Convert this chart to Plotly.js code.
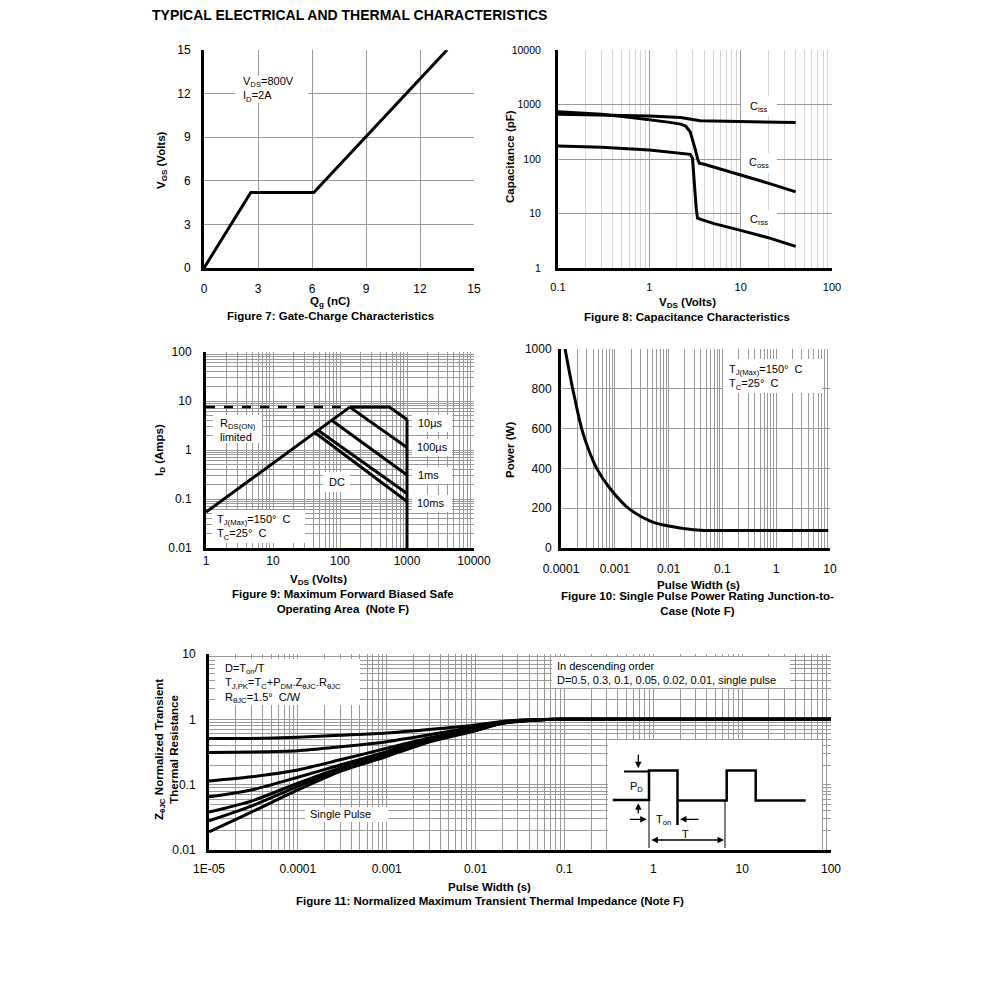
<!DOCTYPE html>
<html><head><meta charset="utf-8">
<script src="https://cdn.plot.ly/plotly-3.0.1.min.js"></script>
<style>html,body{margin:0;padding:0;background:#fff}#chart{width:991px;height:991px}</style>
</head><body><div id="chart"></div>
<script>
// ---------- Figure 7: Gate charge ----------
const qg  = [0, 2.6, 6.1, 13.5];
const vgs = [0, 5.2, 5.2, 15];

// ---------- Figure 8: Capacitance ----------
const cissV = [0.1, 0.3, 1, 2.2, 2.6, 2.9, 3.3, 3.6, 5, 10, 20, 40];
const cissC = [665, 647, 612, 578, 550, 522, 506, 502, 496, 489, 480, 469];
const cossV = [0.1, 0.3, 0.6, 1, 1.6, 2.2, 2.5, 2.8, 3.0, 3.2, 3.4, 3.55, 3.9, 6, 10, 20, 40];
const cossC = [735, 665, 585, 532, 475, 437, 402, 316, 223, 146, 96, 83, 81, 66, 51, 36, 25];
const crssV = [0.1, 0.3, 1, 2, 2.8, 2.97, 3.05, 3.15, 3.26, 3.37, 3.6, 5, 10, 20, 40];
const crssC = [173, 165, 146, 132, 122, 103, 63, 27, 12.5, 8.2, 7.9, 6.6, 4.9, 3.6, 2.5];

// ---------- Figure 9: Safe operating area ----------
const dashV = [1, 140],   dashI = [7.5, 7.5];
const rdsV  = [1, 140],   rdsI  = [0.054, 7.5];
const us10V = [140, 545, 1000], us10I = [7.5, 7.5, 4.2];
const us100V = [140, 1000], us100I = [7.5, 1.12];
const ms1V  = [75, 1000], ms1I  = [4.05, 0.31];
const ms10V = [47, 1000], ms10I = [2.54, 0.13];
const dcV   = [42, 1000], dcI   = [2.27, 0.089];
const bvV   = [1000, 1000], bvI = [4.2, 0.01];

// ---------- Figure 10: Single pulse power ----------
const pw  = [1.19e-4, 1.65e-4, 2.42e-4, 3.2e-4, 4.6e-4, 8.1e-4, 1.78e-3, 4.8e-3, 0.0107, 0.029, 0.058, 0.2, 1, 9.3];
const pwr = [1000, 800, 600, 500, 400, 300, 200, 133, 109, 92, 88, 88, 88, 88];

// ---------- Figure 11: Transient thermal impedance ----------
const tp     = [1e-5, 3e-5, 1e-4, 3e-4, 1e-3, 3e-3, 1e-2, 2e-2, 5e-2, 1e-1, 1, 10, 100];
const zD05   = [0.51, 0.51, 0.53, 0.57, 0.62, 0.70, 0.82, 0.93, 0.99, 1.0, 1.0, 1.0, 1.0];
const zD03   = [0.31, 0.315, 0.33, 0.38, 0.455, 0.58, 0.77, 0.91, 0.99, 1.0, 1.0, 1.0, 1.0];
const zD01   = [0.114, 0.132, 0.168, 0.24, 0.36, 0.52, 0.73, 0.89, 0.985, 1.0, 1.0, 1.0, 1.0];
const zD005  = [0.065, 0.083, 0.13, 0.20, 0.32, 0.49, 0.70, 0.88, 0.985, 1.0, 1.0, 1.0, 1.0];
const zD002  = [0.038, 0.056, 0.105, 0.18, 0.30, 0.47, 0.69, 0.88, 0.98, 1.0, 1.0, 1.0, 1.0];
const zD001  = [0.028, 0.047, 0.094, 0.17, 0.28, 0.46, 0.68, 0.87, 0.98, 1.0, 1.0, 1.0, 1.0];
const zSingle= [0.019, 0.038, 0.083, 0.16, 0.27, 0.45, 0.67, 0.87, 0.98, 1.0, 1.0, 1.0, 1.0];

// ---------- Inset pulse diagram (inset axis units) ----------
const pulse1U = [4.7, 41, 41, 69.5, 69.5], pulse1V = [50, 50, 79.5, 79.5, 25];
const pulse2U = [69.5, 118.7, 118.7, 147.7, 147.7, 197.7], pulse2V = [49.5, 49.5, 79.5, 79.5, 49.5, 49.5];
const stubU = [16, 40], stubV = [78.5, 78.5];
const markU = [41, 41, null, 117, 117], markV = [50, 2, null, 49.5, 2];

// ---------- tick labels ----------
const t8x = [0.1, 1, 10, 100],  t8xT = ['0.1', '1', '10', '100'];
const t8y = [1, 10, 100, 1000, 10000], t8yT = ['1', '10', '100', '1000', '10000'];
const t9x = [1, 10, 100, 1000, 10000], t9xT = ['1', '10', '100', '1000', '10000'];
const t9y = [0.01, 0.1, 1, 10, 100], t9yT = ['0.01', '0.1', '1', '10', '100'];
const t10x = [0.0001, 0.001, 0.01, 0.1, 1, 10], t10xT = ['0.0001', '0.001', '0.01', '0.1', '1', '10'];
const t11x = [1e-5, 1e-4, 1e-3, 0.01, 0.1, 1, 10, 100], t11xT = ['1E-05', '0.0001', '0.001', '0.01', '0.1', '1', '10', '100'];
const t11y = [0.01, 0.1, 1, 10], t11yT = ['0.01', '0.1', '1', '10'];

// ---------- helpers ----------
const FONT = 'Arial, "Liberation Sans", sans-serif';
const W = 991;
const X = p => p / W;
const Y = p => 1 - p / W;
function minorVals(lo, hi) {
  const v = [];
  for (let e = lo; e < hi; e++) for (let k = 2; k <= 9; k++) v.push(k * Math.pow(10, e));
  return v;
}
function ax(o, fs) {
  return Object.assign({
    showline: true, linecolor: '#000', linewidth: 3, mirror: false,
    showgrid: true, gridcolor: '#999', gridwidth: 1, zeroline: false,
    ticks: 'outside', tickcolor: 'rgba(0,0,0,0)', ticklen: 8,
    tickfont: {family: FONT, size: fs || 12, color: '#000'}, fixedrange: true
  }, o);
}
function logAx(o, lo, hi, tv, tt, minorColor, fs) {
  const a = ax(Object.assign({type: 'log', range: [lo, hi], tickmode: 'array', tickvals: tv, ticktext: tt}, o), fs);
  if (minorColor) a.minor = {tickmode: 'array', tickvals: minorVals(lo, hi), showgrid: true, gridcolor: minorColor, gridwidth: 1, ticks: ''};
  return a;
}
function line(x, y, xa, ya, extra) {
  return Object.assign({x: x, y: y, xaxis: xa, yaxis: ya, type: 'scatter', mode: 'lines',
    line: {color: '#000', width: 3}, hoverinfo: 'skip'}, extra || {});
}

const shapes = [];
const annotations = [];
function box(x0, y0, x1, y1) {
  shapes.push({type: 'rect', xref: 'paper', yref: 'paper', x0: X(x0), x1: X(x1), y0: Y(y1), y1: Y(y0),
    fillcolor: '#fff', line: {width: 0}, layer: 'above'});
}
function label(text, xLeft, yMid) {
  annotations.push({text: text, xref: 'paper', yref: 'paper', x: X(xLeft), y: Y(yMid),
    xanchor: 'left', yanchor: 'middle', align: 'left', showarrow: false,
    font: {family: FONT, size: 11, color: '#000'}});
}
function bold(text, xc, yMid, angle) {
  annotations.push({text: text, xref: 'paper', yref: 'paper', x: X(xc), y: Y(yMid),
    xanchor: 'center', yanchor: 'middle', align: 'center', showarrow: false, textangle: angle || 0,
    font: {family: FONT, size: 11.5, color: '#000', weight: 'bold'}});
}
function arrow(hx, hy, tx, ty, both) {
  annotations.push({xref: 'x6', yref: 'y6', axref: 'x6', ayref: 'y6', x: hx, y: hy, ax: tx, ay: ty,
    text: '', showarrow: true, arrowhead: 2, arrowsize: 1, arrowwidth: 1.3, arrowcolor: '#000',
    arrowside: both ? 'end+start' : 'end', startarrowhead: 2, standoff: 0, startstandoff: 0});
}
function insetText(text, u, v) {
  annotations.push({xref: 'x6', yref: 'y6', x: u, y: v, text: text, showarrow: false,
    xanchor: 'center', yanchor: 'middle', font: {family: FONT, size: 11, color: '#000'}});
}

// ---------- label boxes & texts ----------
// Fig 7
box(235, 76, 308, 103);
label('V<sub>DS</sub>=800V<br>I<sub>D</sub>=2A', 241, 89);
// Fig 8
box(741, 96, 777, 116);  label('C<sub>iss</sub>', 748, 107);
box(741, 153, 777, 173); label('C<sub>oss</sub>', 747, 163);
box(741, 210, 777, 229); label('C<sub>rss</sub>', 748, 220);
// Fig 9
box(213, 415, 262, 443); label('R<sub>DS(ON)</sub><br>limited', 218, 430);
box(412, 415, 452, 432); label('10\u00b5s', 416, 423);
box(412, 439, 452, 456); label('100\u00b5s', 415, 447);
box(412, 467, 452, 484); label('1ms', 416, 475);
box(412, 495, 452, 512); label('10ms', 415, 503);
box(323, 472, 350, 492); label('DC', 327, 482);
box(212, 510, 305, 543); label('T<sub>J(Max)</sub>=150\u00b0  C<br>T<sub>C</sub>=25\u00b0  C', 215, 527);
// Fig 10
box(723, 359, 822, 393); label('T<sub>J(Max)</sub>=150\u00b0  C<br>T<sub>C</sub>=25\u00b0  C', 727, 377);
// Fig 11
box(215, 659, 360, 705);
label('D=T<sub>on</sub>/T<br>T<sub>J,PK</sub>=T<sub>C</sub>+P<sub>DM</sub>.Z<sub>\u03b8JC</sub>.R<sub>\u03b8JC</sub><br>R<sub>\u03b8JC</sub>=1.5\u00b0  C/W', 223, 683);
box(552, 657, 790, 688);
label('In descending order<br>D=0.5, 0.3, 0.1, 0.05, 0.02, 0.01, single pulse', 555, 673);
box(305, 807, 388, 822); label('Single Pulse', 308, 814);
shapes.push({type: 'rect', xref: 'x6', yref: 'y6', x0: 0, x1: 214, y0: 8.3, y1: 104,
  fillcolor: '#fff', line: {width: 0}, layer: 'below'});

// inset arrows / texts
arrow(30.3, 81.7, 30.3, 96.7);
arrow(30.3, 46.7, 30.3, 35);
arrow(38.7, 30.7, 20.3, 30.7);
arrow(72, 30.7, 92, 30.7);
arrow(116, 10, 42, 10, true);
insetText('P<sub>D</sub>', 28.7, 63.3);
insetText('T<sub>on</sub>', 55, 30);
insetText('T', 77, 15.7);

// axis titles
bold('Q<sub>g</sub> (nC)', 330, 302);
bold('V<sub>GS</sub> (Volts)', 162, 160, -90);
bold('V<sub>DS</sub> (Volts)', 687, 303);
bold('Capacitance (pF)', 510, 157, -90);
bold('V<sub>DS</sub> (Volts)', 318, 580);
bold('I<sub>D</sub> (Amps)', 160, 450, -90);
bold('Pulse Width (s)', 698, 585);
bold('Power (W)', 510, 450, -90);
bold('Pulse Width (s)', 489, 887);
bold('Z<sub>\u03b8JC</sub> Normalized Transient<br>Thermal Resistance', 166, 750, -90);

// captions
bold('Figure 7: Gate-Charge Characteristics', 330, 316);
bold('Figure 8: Capacitance Characteristics', 687, 317);
bold('Figure 9: Maximum Forward Biased Safe<br>Operating Area  (Note F)', 343, 601);
bold('Figure 10: Single Pulse Power Rating Junction-to-<br>Case (Note F)', 697, 603);
bold('Figure 11: Normalized Maximum Transient Thermal Impedance (Note F)', 490, 901);

// ---------- traces ----------
const sp = {color: '#000', width: 3, shape: 'spline', smoothing: 0.7};
const traces = [
  line(qg, vgs, 'x', 'y'),

  line(cissV, cissC, 'x2', 'y2'),
  line(cossV, cossC, 'x2', 'y2'),
  line(crssV, crssC, 'x2', 'y2'),

  line(dashV, dashI, 'x3', 'y3', {line: {color: '#000', width: 2.5, dash: 'dash'}}),
  line(rdsV, rdsI, 'x3', 'y3'),
  line(us10V, us10I, 'x3', 'y3'),
  line(us100V, us100I, 'x3', 'y3'),
  line(ms1V, ms1I, 'x3', 'y3'),
  line(ms10V, ms10I, 'x3', 'y3'),
  line(dcV, dcI, 'x3', 'y3'),
  line(bvV, bvI, 'x3', 'y3'),

  line(pw, pwr, 'x4', 'y4', {line: {color: '#000', width: 3, shape: 'spline', smoothing: 0.8}}),

  line(tp, zD05, 'x5', 'y5', {line: sp}),
  line(tp, zD03, 'x5', 'y5', {line: sp}),
  line(tp, zD01, 'x5', 'y5', {line: sp}),
  line(tp, zD005, 'x5', 'y5', {line: sp}),
  line(tp, zD002, 'x5', 'y5', {line: sp}),
  line(tp, zD001, 'x5', 'y5', {line: sp}),
  line(tp, zSingle, 'x5', 'y5', {line: sp}),

  line(pulse1U, pulse1V, 'x6', 'y6', {line: {color: '#000', width: 2.5}}),
  line(pulse2U, pulse2V, 'x6', 'y6', {line: {color: '#000', width: 2.5}}),
  line(stubU, stubV, 'x6', 'y6', {line: {color: '#000', width: 2}}),
  line(markU, markV, 'x6', 'y6', {line: {color: '#000', width: 1}, connectgaps: false})
];

// ---------- layout ----------
const layout = {
  width: 991, height: 991, margin: {l: 0, r: 0, t: 0, b: 0},
  paper_bgcolor: '#fff', plot_bgcolor: '#fff', showlegend: false, hovermode: false,
  title: {text: 'TYPICAL ELECTRICAL AND THERMAL CHARACTERISTICS', xref: 'paper', yref: 'paper',
    x: X(152), xanchor: 'left', y: Y(15), yanchor: 'middle',
    font: {family: FONT, size: 14, color: '#000', weight: 'bold'}},

  xaxis: ax({domain: [X(204), X(474)], range: [0, 15], dtick: 3, tick0: 0, anchor: 'y', ticklen: 8}),
  yaxis: ax({domain: [Y(268), Y(50)], range: [0, 15], dtick: 3, tick0: 0, anchor: 'x', ticklen: 8}),

  xaxis2: logAx({domain: [X(558), X(832)], anchor: 'y2', ticklen: 7}, -1, 2, t8x, t8xT, '#d4d4d4', 11),
  yaxis2: logAx({domain: [Y(268), Y(50)], anchor: 'x2', ticklen: 12}, 0, 4, t8y, t8yT, null, 10.5),

  xaxis3: logAx({domain: [X(206), X(474)], anchor: 'y3', ticklen: 0}, 0, 4, t9x, t9xT, '#999'),
  yaxis3: logAx({domain: [Y(548), Y(352)], anchor: 'x3', ticklen: 9}, -2, 2, t9y, t9yT, '#999'),

  xaxis4: logAx({domain: [X(561), X(830)], anchor: 'y4', ticklen: 8}, -4, 1, t10x, t10xT, '#999'),
  yaxis4: ax({domain: [Y(548), Y(349)], anchor: 'x4', range: [0, 1000], dtick: 200, tick0: 0, ticklen: 4}),

  xaxis5: logAx({domain: [X(209), X(831)], anchor: 'y5', ticklen: 6}, -5, 2, t11x, t11xT, '#999'),
  yaxis5: logAx({domain: [Y(850), Y(654)], anchor: 'x5', ticklen: 8}, -2, 1, t11y, t11yT, '#999'),

  xaxis6: {domain: [X(608), X(822)], range: [0, 214], visible: false, anchor: 'y6', fixedrange: true},
  yaxis6: {domain: [Y(850), Y(740)], range: [0, 110], visible: false, anchor: 'x6', fixedrange: true},

  shapes: shapes,
  annotations: annotations
};

Plotly.newPlot('chart', traces, layout, {displayModeBar: false, staticPlot: true});
</script>
</body></html>
